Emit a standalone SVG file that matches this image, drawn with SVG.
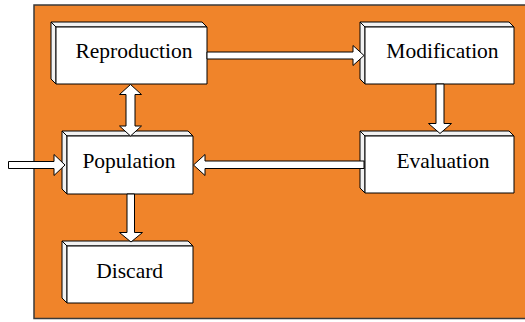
<svg xmlns="http://www.w3.org/2000/svg" width="525" height="322" viewBox="0 0 525 322">
<style>
.bg{fill:#F0842A;stroke:#3a3a3a;stroke-width:1.5}
.face{fill:#fff;stroke:#000;stroke-width:1;stroke-linejoin:round}
.side{fill:#f2f2f2;stroke:#000;stroke-width:1;stroke-linejoin:round}
.lbl{font-family:'Liberation Serif','DejaVu Serif',Tinos,'Times New Roman',serif;font-size:21.5px;fill:#000;text-anchor:middle}
.arr{fill:#fff;stroke:#000;stroke-width:1;stroke-linejoin:miter}
</style>
<rect class="bg" x="34" y="5" width="495" height="313.5"/>
<g id="reproduction">
<polygon class="side" points="51,22 202,22 207,27 56,27"/>
<polygon class="side" points="51,22 56,27 56,84 51,79"/>
<rect class="face" x="56" y="27" width="151" height="57"/>
<text class="lbl" x="134" y="58.3" font-family="Liberation Serif, serif">Reproduction</text>
</g>
<g id="modification">
<polygon class="side" points="360,22 509,22 514,27 365,27"/>
<polygon class="side" points="360,22 365,27 365,84 360,79"/>
<rect class="face" x="365" y="27" width="149" height="57"/>
<text class="lbl" x="442.5" y="58.3" font-family="Liberation Serif, serif">Modification</text>
</g>
<g id="population">
<polygon class="side" points="62,131 188,131 193,136 67,136"/>
<polygon class="side" points="62,131 67,136 67,194 62,189"/>
<rect class="face" x="67" y="136" width="126" height="58"/>
<text class="lbl" x="129" y="168.3" font-family="Liberation Serif, serif">Population</text>
</g>
<g id="evaluation">
<polygon class="side" points="360,131 509,131 514,136 365,136"/>
<polygon class="side" points="360,131 365,136 365,193 360,188"/>
<rect class="face" x="365" y="136" width="149" height="57"/>
<text class="lbl" x="443" y="168.3" font-family="Liberation Serif, serif">Evaluation</text>
</g>
<g id="discard">
<polygon class="side" points="62,241 188,241 193,246 67,246"/>
<polygon class="side" points="62,241 67,246 67,303 62,298"/>
<rect class="face" x="67" y="246" width="126" height="57"/>
<text class="lbl" x="129.7" y="278.3" font-family="Liberation Serif, serif">Discard</text>
</g>
<g id="connectors">
<polygon class="arr" points="207,52 353,52 353,45.5 364,55.5 353,65.5 353,59 207,59"/>
<polygon class="arr" points="130.5,84.5 141.5,94.5 135,94.5 135,126 141.5,126 130.5,136 119.5,126 126,126 126,94.5 119.5,94.5"/>
<polygon class="arr" points="436,84 444,84 444,123.5 451.5,123.5 440,133.5 428.5,123.5 436,123.5"/>
<polygon class="arr" points="364,161 205,161 205,154.5 193.5,165 205,175.5 205,168.5 364,168.5"/>
<polygon class="arr" points="8.5,161.5 54,161.5 54,154.5 65,165 54,175.5 54,168.5 8.5,168.5"/>
<polygon class="arr" points="127,194 134.5,194 134.5,232.5 142.5,232.5 131,242 119.5,232.5 127,232.5"/>
</g>
</svg>
